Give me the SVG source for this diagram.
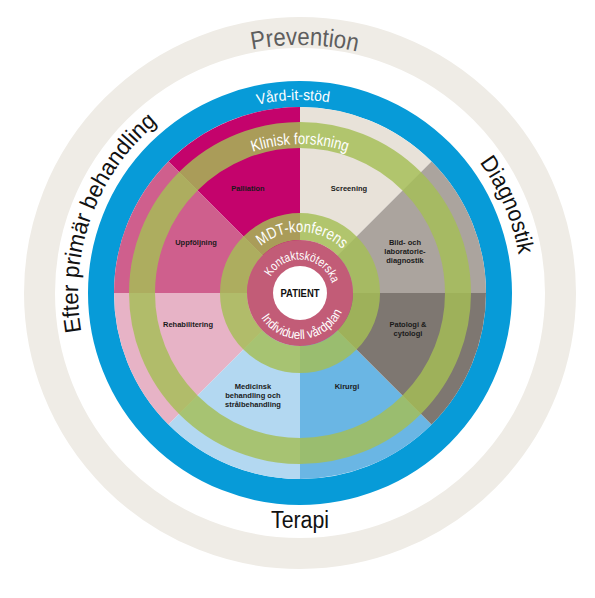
<svg xmlns="http://www.w3.org/2000/svg" width="595" height="598" viewBox="0 0 595 598">
<style>
.lbl{font-family:"Liberation Sans",Arial,sans-serif;font-weight:bold;font-size:7.5px;fill:#1a1a1a;text-anchor:middle}
.arcw{font-family:"Liberation Sans",Arial,sans-serif;fill:#ffffff;text-anchor:middle}
.big{font-family:"Liberation Sans",Arial,sans-serif;fill:#111111;text-anchor:middle}
.green{fill:none;stroke:#a5be55;stroke-opacity:0.82}
</style>
<defs>
<path id="p-prev" d="M52,293 A248,248 0 0 1 548,293"/>
<path id="p-vard" d="M108.88,266.14 A193,193 0 0 1 488.78,252.87"/>
<path id="p-klin" d="M151,293 A149,149 0 0 1 449,293"/>
<path id="p-mdt" d="M240.33,280.32 A61,61 0 0 1 360.41,284.51"/>
<path id="p-kont" d="M267.80,283.77 A33.5,33.5 0 0 1 333.42,290.66"/>
<path id="p-indiv" d="M255.37,304.13 A46,46 0 0 0 345.75,297.81"/>
<path id="p-diag" d="M327.06,72.65 A222,222 0 0 1 477.29,426.60"/>
<path id="p-efter" d="M189,485.26 A222,222 0 0 1 338.55,74.37"/>
</defs>
<rect width="595" height="598" fill="#ffffff"/>

<g id="prevention">
<circle cx="300" cy="293" r="260.5" fill="none" stroke="#efece6" stroke-width="31"/>
<text font-family="Liberation Sans, Arial, sans-serif" font-size="25" fill="#5e5e5e" text-anchor="middle"><textPath href="#p-prev" startOffset="50.6%" textLength="106" lengthAdjust="spacingAndGlyphs">Prevention</textPath></text>
</g>

<g id="diagnostik">
<text class="big" font-size="23"><textPath href="#p-diag" startOffset="50%" textLength="101" lengthAdjust="spacingAndGlyphs">Diagnostik</textPath></text>
</g>
<g id="efter-primar-behandling">
<text class="big" font-size="23"><textPath href="#p-efter" startOffset="50%" textLength="233" lengthAdjust="spacingAndGlyphs">Efter primär behandling</textPath></text>
</g>
<g id="terapi">
<text class="big" x="300" y="528" font-size="23" textLength="58" lengthAdjust="spacingAndGlyphs">Terapi</text>
</g>

<g id="vard-it-stod">
<circle cx="300" cy="293" r="199" fill="none" stroke="#079bd8" stroke-width="26"/>
<text class="arcw" font-size="15"><textPath href="#p-vard" startOffset="50%" textLength="72" lengthAdjust="spacingAndGlyphs">Vård-it-stöd</textPath></text>
</g>

<g id="sector-screening">
<path d="M300,293 L431.52,161.48 A186,186 0 0 0 300,107 Z" fill="#e8e2d9"/>
</g>
<g id="sector-palliation">
<path d="M300,293 L300,107 A186,186 0 0 0 168.48,161.48 Z" fill="#c4036c"/>
</g>
<g id="sector-uppfoljning">
<path d="M300,293 L168.48,161.48 A186,186 0 0 0 114,293 Z" fill="#cf5f8d"/>
</g>
<g id="sector-rehabilitering">
<path d="M300,293 L114,293 A186,186 0 0 0 168.48,424.52 Z" fill="#e7b3c6"/>
</g>
<g id="sector-medicinsk">
<path d="M300,293 L168.48,424.52 A186,186 0 0 0 300,479 Z" fill="#b3d8f1"/>
</g>
<g id="sector-kirurgi">
<path d="M300,293 L300,479 A186,186 0 0 0 431.52,424.52 Z" fill="#6ab6e4"/>
</g>
<g id="sector-patologi">
<path d="M300,293 L431.52,424.52 A186,186 0 0 0 486,293 Z" fill="#7e7771"/>
</g>
<g id="sector-bild">
<path d="M300,293 L486,293 A186,186 0 0 0 431.52,161.48 Z" fill="#aba49e"/>
</g>

<g id="klinisk-forskning">
<circle class="green" cx="300" cy="293" r="158" stroke-width="26"/>
<text class="arcw" font-size="16"><textPath href="#p-klin" startOffset="50%" textLength="96" lengthAdjust="spacingAndGlyphs">Klinisk forskning</textPath></text>
</g>

<g id="mdt-konferens">
<circle class="green" cx="300" cy="293" r="66.5" stroke-width="27"/>
<text class="arcw" font-size="16"><textPath href="#p-mdt" startOffset="50%" textLength="89" lengthAdjust="spacingAndGlyphs">MDT-konferens</textPath></text>
</g>

<g id="kontaktskoterska">
<circle cx="300" cy="293" r="53" fill="#c25c77"/>
<text class="arcw" font-size="12.5"><textPath href="#p-kont" startOffset="50%" textLength="78" lengthAdjust="spacingAndGlyphs">Kontaktsköterska</textPath></text>
<text class="arcw" font-size="13"><textPath href="#p-indiv" startOffset="50%" textLength="99" lengthAdjust="spacingAndGlyphs">Individuell vårdplan</textPath></text>
</g>

<g id="patient">
<circle cx="300" cy="293" r="27" fill="#ffffff"/>
<text x="300" y="297" font-family="Liberation Sans, Arial, sans-serif" font-weight="bold" font-size="11" fill="#111111" text-anchor="middle" textLength="39" lengthAdjust="spacingAndGlyphs">PATIENT</text>
</g>

<g id="labels">
<text class="lbl" x="248" y="190.5">Palliation</text>
<text class="lbl" x="349" y="190.5">Screening</text>
<text class="lbl" x="196" y="244.5">Uppföljning</text>
<text class="lbl" x="405" y="244.5">Bild- och<tspan x="405" dy="9">laboratorie-</tspan><tspan x="405" dy="9">diagnostik</tspan></text>
<text class="lbl" x="188" y="326.5">Rehabilitering</text>
<text class="lbl" x="408" y="326.5">Patologi &amp;<tspan x="408" dy="9">cytologi</tspan></text>
<text class="lbl" x="253" y="388.5">Medicinsk<tspan x="253" dy="9">behandling och</tspan><tspan x="253" dy="9">strålbehandling</tspan></text>
<text class="lbl" x="347" y="388.5">Kirurgi</text>
</g>
<g id="connectors"/>
</svg>
